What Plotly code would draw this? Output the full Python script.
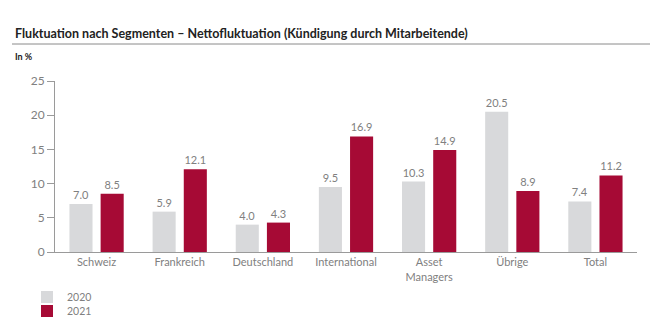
import plotly.graph_objects as go

categories = ["Schweiz", "Frankreich", "Deutschland", "International", "Asset<br>Managers", "Übrige", "Total"]
values_2020 = [7.0, 5.9, 4.0, 9.5, 10.3, 20.5, 7.4]
values_2021 = [8.5, 12.1, 4.3, 16.9, 14.9, 8.9, 11.2]
series_names = ["2020", "2021"]

GRAY = "#d8d9db"
RED = "#a60a35"
TXT = "#808080"
FONT = "Lato"

W, H = 650, 333
L, R, T, B = 55, 13, 81, 81
ph = H - T - B
pw = W - L - R

def py(y):
    return 1 + (T - y) / ph

def px(x):
    return (x - L) / pw

fig = go.Figure()
for i, (name, vals, col) in enumerate([(series_names[0], values_2020, GRAY), (series_names[1], values_2021, RED)]):
    fig.add_trace(go.Bar(
        x=categories, y=vals, name=name, marker_color=col, marker_line_width=0,
        text=[f"{v:.1f}" for v in vals], textposition="outside", cliponaxis=False,
        textfont=dict(family=FONT, size=11, color=TXT),
        legend="legend" if i == 0 else "legend2",
    ))

leg_common = dict(xanchor="left", yanchor="middle", orientation="v",
                  font=dict(family=FONT, size=10.5, color=TXT), itemwidth=30,
                  bgcolor="rgba(0,0,0,0)", borderwidth=0)

fig.update_layout(
    width=W, height=H,
    margin=dict(l=L, r=R, t=T, b=B, autoexpand=False),
    paper_bgcolor="white", plot_bgcolor="white",
    barmode="group", bargap=0.25, bargroupgap=0.26,
    font=dict(family=FONT, size=11, color=TXT),
    showlegend=True,
    legend=dict(x=px(27), y=py(297), **leg_common),
    legend2=dict(x=px(27), y=py(311), **leg_common),
    xaxis=dict(showline=True, linecolor="#9a9a9a", linewidth=1, ticks="", showgrid=False,
               tickfont=dict(family=FONT, size=11, color=TXT)),
    yaxis=dict(range=[0, 25], dtick=5, showline=True, linecolor="#9a9a9a", linewidth=1,
               ticks="outside", ticklen=7, tickcolor="#9a9a9a", showgrid=False, zeroline=False,
               tickfont=dict(family=FONT, size=12, color=TXT)),
    annotations=[
        dict(text="<b>Fluktuation nach Segmenten – Nettofluktuation (Kündigung durch Mitarbeitende)</b>",
             xref="paper", yref="paper", x=px(13), y=py(34), xanchor="left", yanchor="middle",
             showarrow=False, font=dict(family=FONT, size=12.5, color="#222222")),
        dict(text="<b>In %</b>", xref="paper", yref="paper", x=px(13), y=py(56),
             xanchor="left", yanchor="middle", showarrow=False,
             font=dict(family=FONT, size=9, color="#222222")),
    ],
    shapes=[dict(type="line", xref="paper", yref="paper", x0=px(12), x1=px(650), y0=py(44), y1=py(44),
                 line=dict(color="#8a8a8a", width=1))],
)

fig.write_html("out.html")
